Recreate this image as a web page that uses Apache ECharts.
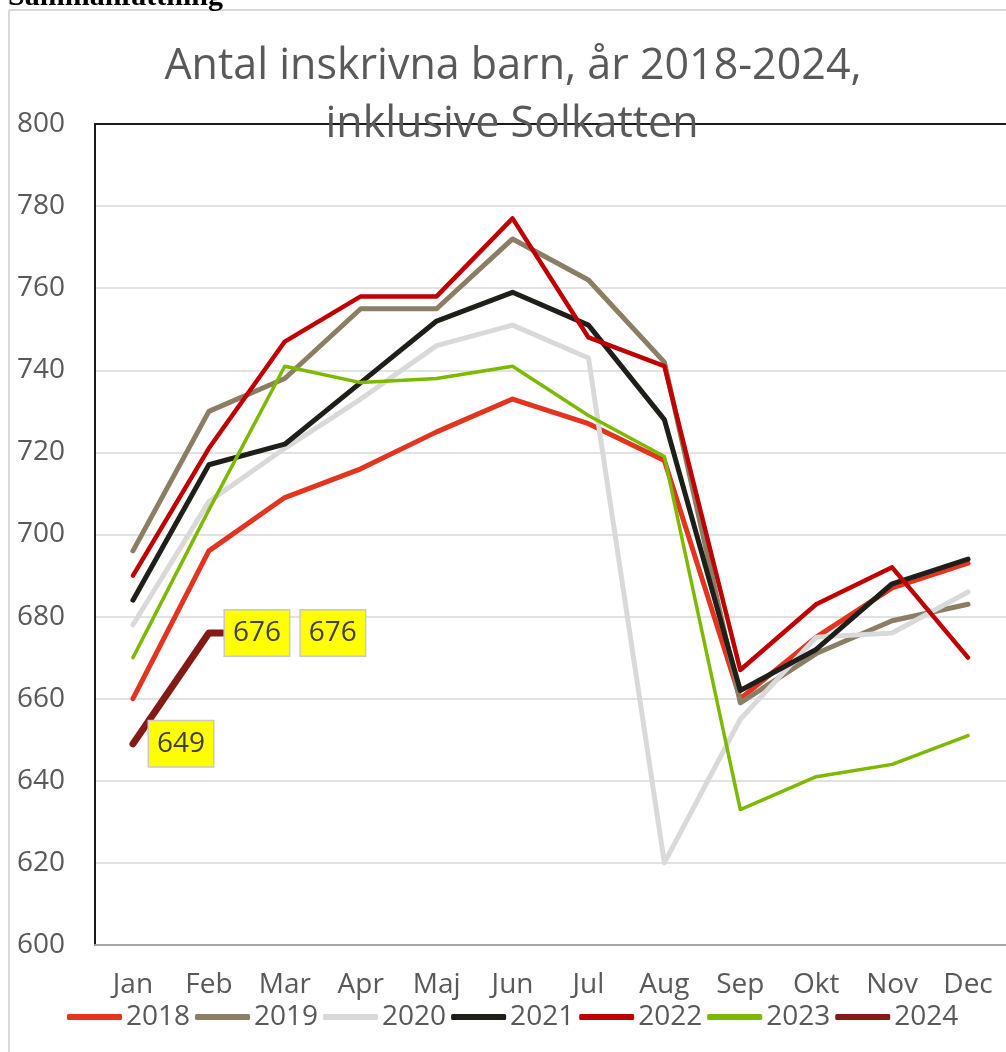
<!DOCTYPE html>
<html>
<head>
<meta charset="utf-8">
<script src="https://cdn.jsdelivr.net/npm/echarts@6/dist/echarts.min.js"></script>
<style>
html,body{margin:0;padding:0;background:#fff;}
#chart{width:1006px;height:1052px;}
</style>
</head>
<body>
<div id="chart"></div>
<script>
var months = ['Jan','Feb','Mar','Apr','Maj','Jun','Jul','Aug','Sep','Okt','Nov','Dec'];
var seriesNames = ['2018','2019','2020','2021','2022','2023','2024'];
var v2018 = [660,696,709,716,725,733,727,718,660,675,687,693];
var v2019 = [696,730,738,755,755,772,762,742,659,671,679,683];
var v2020 = [678,708,721,733,746,751,743,620,655,675,676,686];
var v2021 = [684,717,722,737,752,759,751,728,662,672,688,694];
var v2022 = [690,721,747,758,758,777,748,741,667,683,692,670];
var v2023 = [670,706,741,737,738,741,729,719,633,641,644,651];
var v2024 = [649,676,676];
var yTicks = [600,620,640,660,680,700,720,740,760,780,800];

var colors = ['#E2341F','#8B7E65','#D9D9D9','#1F1F1A','#C00000','#7CB900','#841A14'];
var widths = [5,5,5,5,4.5,3.5,7];
var allValues = [v2018,v2019,v2020,v2021,v2022,v2023,v2024];

var FONT = '"Open Sans", sans-serif';
var chart = echarts.init(document.getElementById('chart'));

var series = seriesNames.map(function(name,i){
  var s = {
    name: name,
    type: 'line',
    data: allValues[i],
    xAxisIndex: 0,
    yAxisIndex: 0,
    showSymbol: false,
    symbol: 'none',
    lineStyle: {color: colors[i], width: widths[i], cap: 'round', join: 'round'},
    itemStyle: {color: colors[i]},
    emphasis: {disabled: true},
    animation: false,
    z: 2 + i
  };
  if (name === '2024') {
    s.showSymbol = true;
    s.symbol = 'circle';
    s.symbolSize = 0.1;
    s.label = {
      show: true,
      position: 'right',
      distance: 16,
      formatter: '{c}',
      color: '#404040',
      fontFamily: FONT,
      fontSize: 28,
      backgroundColor: '#FFFF00',
      borderColor: '#C8C8C8',
      borderWidth: 1.5,
      padding: [9, 8, 8, 8]
    };
  }
  return s;
});

var option = {
  animation: false,
  backgroundColor: '#fff',
  textStyle: {fontFamily: FONT},
  grid: {left: 95, top: 124, width: 920, height: 821, containLabel: false},
  legend: {
    data: seriesNames,
    left: 62,
    top: 998,
    icon: 'roundRect',
    itemWidth: 55,
    itemHeight: 6,
    itemGap: 5,
    textStyle: {color: '#595959', fontSize: 28, fontFamily: FONT, padding: [0,0,0,-1]},
    selectedMode: false
  },
  xAxis: [{
    type: 'category',
    data: months,
    boundaryGap: true,
    position: 'bottom',
    axisLine: {show: true, lineStyle: {color: '#A6A6A6', width: 2}},
    axisTick: {show: false},
    axisLabel: {color: '#595959', fontSize: 28, fontFamily: FONT, margin: 26, interval: 0},
    splitLine: {show: false}
  },{
    type: 'category',
    data: months,
    position: 'top',
    axisLine: {show: true, lineStyle: {color: '#1A1A1A', width: 2}},
    axisTick: {show: false},
    axisLabel: {show: false},
    splitLine: {show: false}
  }],
  yAxis: [{
    type: 'value',
    min: yTicks[0],
    max: yTicks[yTicks.length-1],
    interval: 20,
    axisLine: {show: true, lineStyle: {color: '#1A1A1A', width: 2}},
    axisTick: {show: false},
    axisLabel: {color: '#595959', fontSize: 28, fontFamily: FONT, margin: 30},
    splitLine: {show: true, lineStyle: {color: '#D9D9D9', width: 1.5}}
  }],
  graphic: [
    {type: 'line', shape: {x1: 9, y1: 10, x2: 9, y2: 1052}, style: {stroke: '#D9D9D9', lineWidth: 2}, z: 0, silent: true},
    {type: 'line', shape: {x1: 9, y1: 10, x2: 1006, y2: 10}, style: {stroke: '#D9D9D9', lineWidth: 2}, z: 0, silent: true},
    {type: 'text', x: 8, y: 12, style: {text: 'Sammanfattning', font: 'bold 30px "Liberation Serif", serif', fill: '#000', textVerticalAlign: 'bottom'}, z: 100, silent: true},
    {type: 'text', x: 513, y: 67, style: {text: 'Antal inskrivna barn, år 2018-2024,', font: '43px "Open Sans", sans-serif', fill: '#595959', textAlign: 'center', textVerticalAlign: 'middle'}, z: 100, silent: true},
    {type: 'text', x: 512, y: 125, style: {text: 'inklusive Solkatten', font: '43px "Open Sans", sans-serif', fill: '#595959', textAlign: 'center', textVerticalAlign: 'middle'}, z: 100, silent: true}
  ],
  series: series
};
chart.setOption(option);
</script>
</body>
</html>
